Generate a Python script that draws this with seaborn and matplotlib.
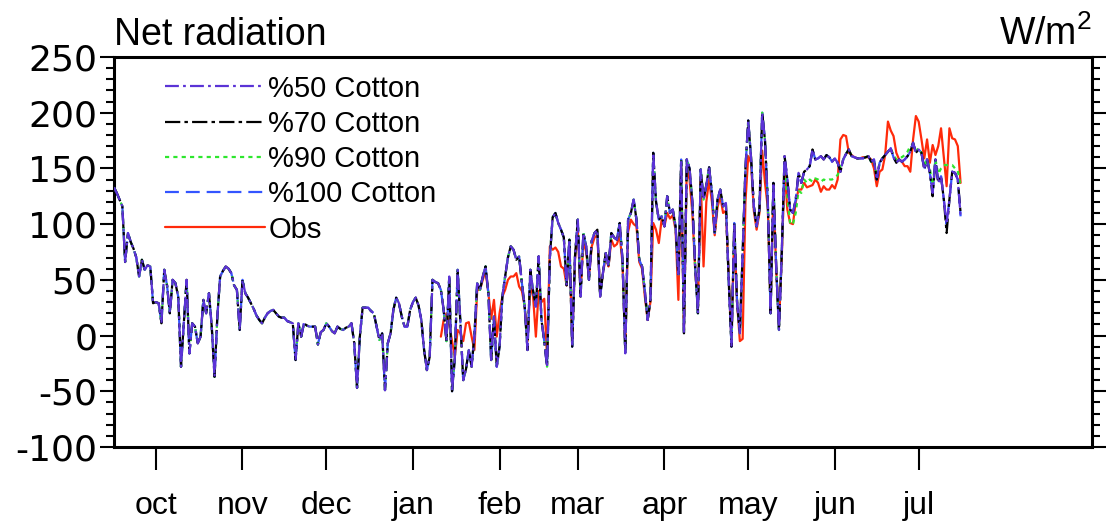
import numpy as np
import pandas as pd
import matplotlib
matplotlib.use("Agg")
import matplotlib.pyplot as plt
from matplotlib.ticker import MultipleLocator
import seaborn as sns

# ---------------- data (W/m^2, daily, day 0 = 1 Oct) ----------------
# values shared by all four cotton runs, days 0..239
model_common = [
    133, 128, 122, 116, 66, 92, 84, 78, 70, 53,
    68, 59, 63, 62, 29, 30, 29, 11, 59, 45,
    20, 50, 47, 35, -28, 11, 50, -16, 11, 8,
    -7, -1, 32, 20, 38, 8, -37, 17, 53, 58,
    62, 60, 56, 45, 41, 5, 50, 38, 34, 29,
    24, 18, 14, 11, 16, 20, 22, 23, 20, 17,
    16, 16, 13, 12, 11, -22, 11, -1, 11, 9,
    8, 8, 8, -8, 3, 5, 11, 8, 4, 2,
    8, 6, 5, 7, 8, 11, -7, -47, -1, 25,
    25, 25, 22, 20, 8, -4, 2, -49, -7, 2,
    23, 34, 29, 17, 8, 8, 23, 30, 34, 27,
    14, -13, -31, -19, 50, 48, 47, 41, 23, -5,
    53, -50, -20, 59, 11, -40, -30, -13, -28, 0,
    47, 41, 53, 62, 38, -22, 17, -28, -10, 35,
    53, 70, 80, 77, 68, 71, 47, 26, -13, 59,
    40, 26, 71, 14, -5, -28, 70, 106, 110, 101,
    95, 88, 45, 86, -10, 71, 104, 35, 92, 80,
    50, 85, 92, 95, 35, 56, 74, 62, 92, 88,
    86, 101, 68, -16, 104, 110, 122, 104, 68, 62,
    40, 14, 32, 164, 120, 104, 107, 98, 125, 110,
    113, 98, 53, 158, 2, 158, 150, 120, 62, 20,
    149, 122, 135, 151, 128, 92, 122, 131, 116, 119,
    50, -10, 101, 30, 2, 74, 150, 193, 160, 116,
    98, 113, 200, 175, 120, 20, 137, 62, 5, 74,
]
# days 240..303 for each run
tail_50 = [
    161, 140, 113, 110, 122, 146, 137, 147, 149, 152,
    167, 158, 159, 161, 158, 162, 160, 156, 159, 155,
    147, 158, 163, 167, 161, 160, 159, 159, 159, 160,
    161, 156, 158, 140, 155, 159, 162, 165, 168, 160,
    155, 158, 156, 158, 161, 165, 173, 164, 167, 164,
    149, 158, 146, 128, 158, 137, 143, 122, 100, 122,
    147, 146, 140, 107,
]
tail_70 = [
    161, 140, 113, 110, 122, 146, 137, 147, 149, 152,
    167, 158, 159, 161, 158, 162, 160, 156, 159, 155,
    147, 158, 163, 167, 161, 160, 159, 159, 159, 160,
    161, 156, 158, 140, 155, 159, 162, 165, 168, 160,
    155, 158, 156, 158, 161, 165, 173, 164, 167, 164,
    149, 158, 146, 125, 158, 137, 143, 122, 92, 122,
    147, 146, 140, 110,
]
tail_90 = [
    150, 125, 100, 100, 110, 130, 128, 140, 137, 140,
    138, 141, 140, 138, 140, 139, 140, 140, 142, 144,
    152, 158, 163, 167, 161, 160, 159, 159, 159, 160,
    161, 156, 158, 142, 155, 159, 162, 165, 168, 162,
    158, 160, 160, 162, 165, 170, 172, 166, 168, 164,
    152, 158, 150, 135, 158, 145, 150, 153, 153, 153,
    153, 150, 148, 134,
]
tail_100 = [
    161, 140, 113, 110, 122, 146, 137, 147, 149, 152,
    167, 158, 159, 161, 158, 162, 160, 156, 159, 155,
    147, 158, 163, 167, 161, 160, 159, 159, 159, 160,
    161, 156, 158, 140, 155, 159, 162, 165, 168, 160,
    155, 158, 156, 158, 161, 165, 173, 164, 167, 164,
    149, 158, 146, 128, 158, 137, 143, 122, 100, 122,
    147, 146, 140, 107,
]
# observations, days 117..303
obs = [
    -1, 14, 20, 10, -5, -19, 5, 2, -5, 11,
    12, -1, -13, 41, 41, 50, 58, 38, 15, 32,
    -1, 20, 35, 41, 50, 53, 53, 56, 44, 40,
    26, -5, 45, 35, -1, 40, 30, 33, -20, 80,
    77, 79, 75, 62, 60, 45, 80, -5, 68, 95,
    38, 85, 75, 52, 80, 88, 90, 38, 56, 70,
    62, 86, 80, 82, 90, 65, -10, 93, 104, 100,
    98, 66, 60, 35, 14, 30, 101, 95, 83, 104,
    98, 110, 105, 108, 95, 32, 150, 5, 150, 140,
    110, 60, 25, 140, 62, 120, 140, 120, 90, 115,
    125, 110, 112, 55, -5, 95, 30, -5, -3, 120,
    161, 155, 112, 95, 110, 166, 137, 115, 25, 130,
    60, 10, 70, 150, 113, 101, 100, 120, 131, 131,
    137, 133, 134, 135, 140, 137, 129, 134, 131, 131,
    135, 132, 140, 176, 180, 179, 164, 162, 160, 159,
    159, 160, 160, 160, 158, 150, 134, 147, 149, 162,
    192, 184, 179, 164, 158, 156, 152, 152, 147, 176,
    197, 192, 176, 159, 176, 155, 171, 162, 170, 186,
    160, 134, 186, 177, 176, 170, 137,
]
obs_start_day = 117

month_labels = ["oct", "nov", "dec", "jan", "feb", "mar", "apr", "may", "jun", "jul"]
month_days = [15, 46, 76, 107, 138, 166, 197, 227, 258, 288]

series_names = ["%50 Cotton", "%70 Cotton", "%90 Cotton", "%100 Cotton", "Obs"]

# ---------------- build table ----------------
cotton50 = model_common + tail_50
cotton70 = model_common + tail_70
cotton90 = model_common + tail_90
cotton100 = model_common + tail_100
model_days = np.arange(len(cotton50))
obs_days = np.arange(obs_start_day, obs_start_day + len(obs))

frames = []
for name, vals in zip(series_names[:4], [cotton50, cotton70, cotton90, cotton100]):
    frames.append(pd.DataFrame({"day": model_days, "value": vals, "series": name}))
frames.append(pd.DataFrame({"day": obs_days, "value": obs, "series": "Obs"}))
df = pd.concat(frames, ignore_index=True)

# ---------------- style ----------------
sns.set_style("white")
plt.rcParams["font.family"] = ["Liberation Sans", "DejaVu Sans"]
plt.rcParams["mathtext.default"] = "regular"
plt.rcParams["lines.scale_dashes"] = False
plt.rcParams["axes.unicode_minus"] = False
for key in ["text.color", "axes.labelcolor", "xtick.color", "ytick.color", "axes.edgecolor"]:
    plt.rcParams[key] = "black"

styles = {
    "%50 Cotton": dict(color="#5B33D6", ls=(0, (10, 3, 2, 3)), z=6),
    "%70 Cotton": dict(color="#000000", ls=(0, (11, 3, 2.5, 3)), z=5),
    "%90 Cotton": dict(color="#2EE62E", ls=(0, (3, 3)), z=4),
    "%100 Cotton": dict(color="#3355FF", ls=(0, (10, 5)), z=3),
    "Obs": dict(color="#FF2A0A", ls="-", z=2),
}

fig = plt.figure(figsize=(11.15, 5.24), dpi=100)
ax = fig.add_axes([0.1022, 0.1470, 0.8771, 0.7443])

handles = {}
for name in ["Obs", "%100 Cotton", "%90 Cotton", "%70 Cotton", "%50 Cotton"]:
    st = styles[name]
    sub = df[df["series"] == name]
    sns.lineplot(data=sub, x="day", y="value", ax=ax, color=st["color"],
                 linestyle=st["ls"], linewidth=1.6, estimator=None, sort=False,
                 label=name, zorder=st["z"])
    handles[name] = ax.get_lines()[-1]

ax.set_xlim(0, 350)
ax.set_ylim(-100, 250)
ax.set_xlabel("")
ax.set_ylabel("")

ax.set_yticks(np.arange(-100, 251, 50))
ax.yaxis.set_minor_locator(MultipleLocator(10))
ax.set_xticks(month_days)
ax.set_xticklabels(month_labels)

ax.tick_params(axis="y", which="major", direction="out", length=10, width=1.5,
               left=True, right=True, labelsize=26, pad=2, colors="black")
ax.tick_params(axis="y", which="minor", direction="out", length=6, width=1.5,
               left=True, right=True)
ax.tick_params(axis="x", which="major", direction="out", length=16.5, width=1.5,
               bottom=True, top=False, labelsize=23, pad=15, colors="black")
ax.tick_params(axis="x", which="minor", bottom=False, top=False)
for lab in ax.get_yticklabels():
    lab.set_fontfamily(["DejaVu Sans"])

for sp in ax.spines.values():
    sp.set_linewidth(2.2)
    sp.set_color("black")
    sp.set_visible(True)

ax.set_title("Net radiation", loc="left", fontsize=27, pad=8.5, color="black")
ax.set_title("W/m$^2$", loc="right", fontsize=27, pad=8.5, color="black")

ax.legend([handles[n] for n in series_names], series_names,
          loc="upper left", bbox_to_anchor=(0.052, 0.955), frameon=False,
          fontsize=21, handlelength=3.45, handletextpad=0.1, labelspacing=0.25,
          borderpad=0, borderaxespad=0)

fig.savefig("out.png", dpi=100)
